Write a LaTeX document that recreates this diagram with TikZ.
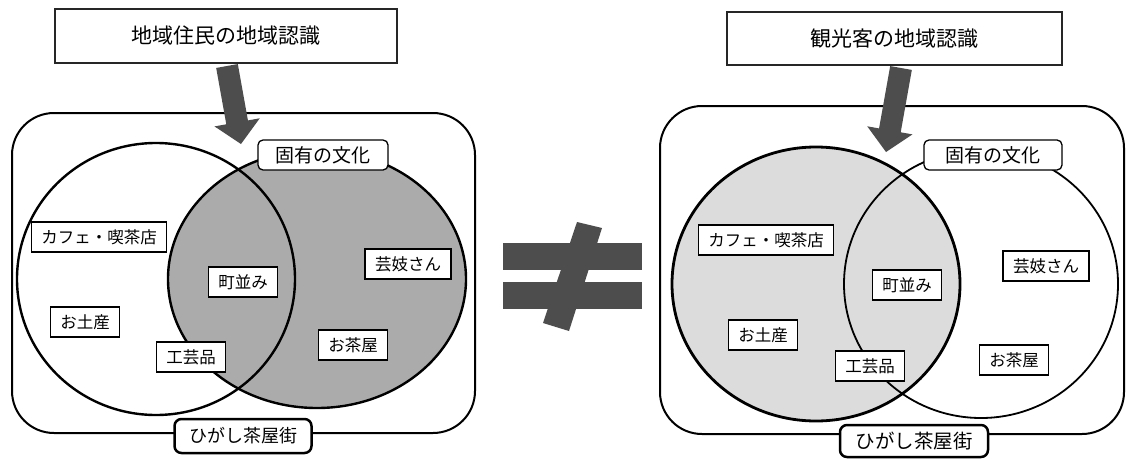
\documentclass[tikz,border=0pt]{standalone}
\usepackage{fontspec}
\newfontfamily\jp{Noto Sans CJK JP}
\usetikzlibrary{calc}
\definecolor{darkg}{HTML}{4D4D4D}
\definecolor{midg}{HTML}{ABABAB}
\definecolor{lightg}{HTML}{DCDCDC}
\newcommand\fatarrow[2]{%
  \coordinate (#1b) at ($(#2)!22pt!(#1)$);
  \fill[darkg] ($(#1)!11pt!90:(#2)$) -- ($(#1b)!11pt!90:(#2)$) -- ($(#1b)!23pt!90:(#2)$)
    -- (#2) -- ($(#1b)!23pt!-90:(#2)$) -- ($(#1b)!11pt!-90:(#2)$) -- ($(#1)!11pt!-90:(#2)$) -- cycle;}
\begin{document}
\begin{tikzpicture}[x=1pt,y=-1pt,
  titlebox/.style={draw=black!85,line width=1.2pt,fill=white,minimum width=#1,minimum height=54pt,inner sep=0pt,font=\jp\fontsize{21}{24}\selectfont},
  lab/.style={draw,line width=1.3pt,fill=white,minimum height=30pt,inner xsep=10pt,inner ysep=0pt,font=\jp\fontsize{16.5}{18}\selectfont},
  culture/.style={draw,line width=1.3pt,fill=white,rounded corners=5pt,minimum width=#1,minimum height=30pt,inner sep=0pt,font=\jp\fontsize{19}{21}\selectfont},
  district/.style={draw,line width=2.5pt,fill=white,rounded corners=7pt,minimum width=#1,minimum height=34pt,inner sep=0pt,font=\jp\fontsize{18}{20}\selectfont},
  frame/.style={line width=2pt,rounded corners=42pt},
  venn/.style={line width=2.4pt}
]
\useasboundingbox (0,0) rectangle (1126,458);

% ---------- left panel ----------
\draw[frame] (12,113) rectangle (475,433);
\fill[midg] (317,279) ellipse [x radius=149pt, y radius=129pt];
\draw[venn] (156,279) ellipse [x radius=139pt, y radius=136pt];
\draw[venn] (317,279) ellipse [x radius=149pt, y radius=129pt];

\node[titlebox=342pt] (titleL) at (226,36) {地域住民の地域認識};
\coordinate (aS1) at (227,66);
\coordinate (aT1) at (241,144);
\fatarrow{aS1}{aT1}

\node[culture=130pt] (cultL) at (323,155) {固有の文化};
\node[lab] (cafeL) at (99,237) {カフェ・喫茶店};
\node[lab] (townL) at (243,282) {町並み};
\node[lab] (geiL) at (408,264) {芸妓さん};
\node[lab] (souvL) at (85,322) {お土産};
\node[lab] (craftL) at (191,357) {工芸品};
\node[lab] (teaL) at (353,345) {お茶屋};
\node[district=137pt] (distL) at (243,436) {ひがし茶屋街};

% ---------- not equal ----------
\fill[darkg] (503,243) rectangle (642,270);
\fill[darkg] (503,282) rectangle (642,309);
\fill[darkg] (577,222) -- (602,228) -- (569,331) -- (543,323) -- cycle;

% ---------- right panel ----------
\draw[frame] (660,106) rectangle (1124,434);
\fill[lightg] (816,284) ellipse [x radius=144pt, y radius=137pt];
\draw[line width=1.8pt] (981,284) ellipse [x radius=137pt, y radius=134pt];
\draw[line width=2.8pt] (816,284) ellipse [x radius=144pt, y radius=137pt];

\node[titlebox=335pt,minimum height=53pt] (titleR) at (894.5,38.5) {観光客の地域認識};
\coordinate (aS2) at (901,68);
\coordinate (aT2) at (886,152);
\fatarrow{aS2}{aT2}

\node[culture=138pt] (cultR) at (993,155) {固有の文化};
\node[lab] (cafeR) at (766,240) {カフェ・喫茶店};
\node[lab] (townR) at (907,285) {町並み};
\node[lab] (geiR) at (1046,266) {芸妓さん};
\node[lab] (souvR) at (763,335) {お土産};
\node[lab] (craftR) at (870,366) {工芸品};
\node[lab] (teaR) at (1014,360) {お茶屋};
\node[district=148pt,minimum height=32pt,font=\jp\fontsize{19.5}{21}\selectfont] (distR) at (914,441) {ひがし茶屋街};
\end{tikzpicture}
\end{document}
